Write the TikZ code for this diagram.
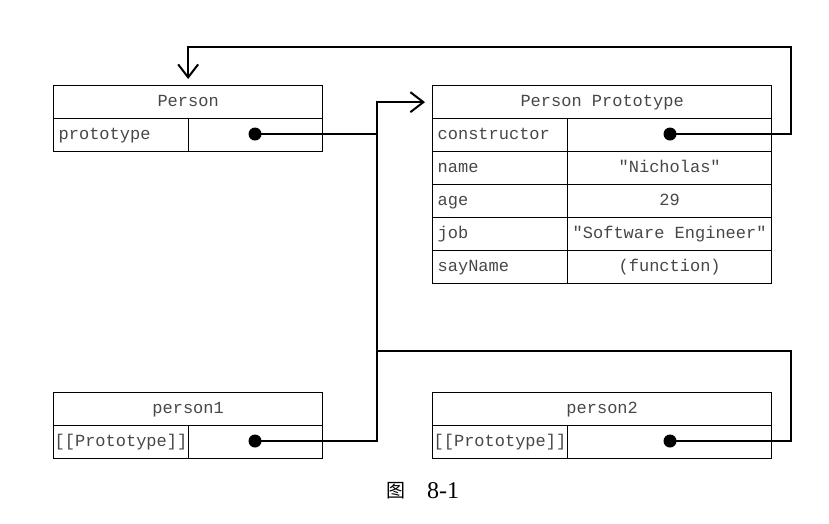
\documentclass[tikz,border=0pt]{standalone}
\usepackage{fontspec}
\newfontfamily\monofont{Liberation Mono}
\newfontfamily\cjkfont{Noto Sans CJK SC}
\newfontfamily\capfont{Liberation Serif}
\usetikzlibrary{arrows.meta}
\begin{document}
\begin{tikzpicture}[x=1pt,y=-1pt,
  box/.style={draw=black, line width=1.3pt, anchor=north west, inner sep=0pt,
    minimum height=33pt, text height=12pt, text depth=3.5pt,
    font=\monofont\fontsize{17}{19}\selectfont, text=black!72},
  lcell/.style={box, inner xsep=5pt, text width=#1-10pt, align=left, minimum width=#1},
  tcell/.style={box, inner xsep=1pt, text width=#1-2pt, align=left, minimum width=#1},
  ccell/.style={box, minimum width=#1},
  wire/.style={line width=2.2pt},
  arr/.style={wire, -{Straight Barb[length=13pt,width=20pt,line width=2pt]}},
  dot/.style={circle, fill=black, inner sep=0pt, minimum size=13pt}]
\useasboundingbox (0,0) rectangle (829,523);
% Person
\node[ccell=269pt] (person) at (53,85) {Person};
\node[lcell=135pt] (personL) at (53,118) {prototype};
\node[ccell=134pt] (personV) at (188,118) {};
\node[dot] (d1) at (255,134) {};
% Person Prototype
\node[ccell=339pt] (proto) at (432,85) {Person Prototype};
\node[lcell=135pt] (r1L) at (432,118) {constructor};
\node[ccell=204pt] (r1V) at (567,118) {};
\node[lcell=135pt] (r2L) at (432,151) {name};
\node[ccell=204pt] (r2V) at (567,151) {"Nicholas"};
\node[lcell=135pt] (r3L) at (432,184) {age};
\node[ccell=204pt] (r3V) at (567,184) {29};
\node[lcell=135pt] (r4L) at (432,217) {job};
\node[ccell=204pt] (r4V) at (567,217) {"Software Engineer"};
\node[lcell=135pt] (r5L) at (432,250) {sayName};
\node[ccell=204pt] (r5V) at (567,250) {(function)};
\node[dot] (d2) at (670,134) {};
% person1
\node[ccell=269pt] (p1) at (53,392) {person1};
\node[tcell=135pt] (p1L) at (53,425) {[[Prototype]]};
\node[ccell=134pt] (p1V) at (188,425) {};
\node[dot] (d3) at (255,441) {};
% person2
\node[ccell=339pt] (p2) at (432,392) {person2};
\node[tcell=135pt] (p2L) at (432,425) {[[Prototype]]};
\node[ccell=204pt] (p2V) at (567,425) {};
\node[dot] (d4) at (670,441) {};
% junction coordinates
\coordinate (j1) at (377,134);
\coordinate (j2) at (377,351);
\coordinate (tgt) at ([xshift=-7pt]proto.west);
% connectors
\draw[wire] (d1.center) -- (j1);
\draw[arr] (d3.center) -| (j1) |- (tgt);
\draw[arr] (d2.center) -- (791,134) -- (791,47) -| ([yshift=6pt]person.north);
\draw[wire] (d4.center) -- (791,441) |- (j2);
% caption
\node[font=\cjkfont\fontsize{19}{21}\selectfont, anchor=center] (capA) at (396,491) {图};
\node[font=\capfont\fontsize{24}{26}\selectfont, anchor=center] (capB) at (443,491) {8-1};
\end{tikzpicture}
\end{document}
